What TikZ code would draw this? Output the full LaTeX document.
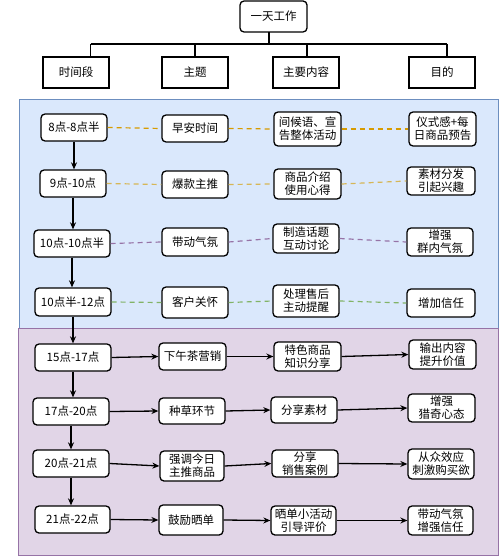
\documentclass[tikz,border=0pt]{standalone}
\usepackage{fontspec}
\setmainfont{Noto Sans CJK SC}
\usetikzlibrary{arrows.meta}
\definecolor{bluefill}{HTML}{DAE8FC}
\definecolor{blueline}{HTML}{6C8EBF}
\definecolor{purfill}{HTML}{E1D5E7}
\definecolor{purline}{HTML}{9673A6}
\definecolor{orangeline}{HTML}{D79B00}
\definecolor{yellowline}{HTML}{D6B656}
\definecolor{greenline}{HTML}{82B366}
\tikzset{
  rbox/.style={draw=black, fill=white, line width=1.3pt, rounded corners=4pt,
    align=center, inner sep=0pt, font=\fontsize{11.5}{13}\selectfont},
  hbox/.style={draw=black, fill=white, line width=1.3pt,
    align=center, inner sep=0pt, font=\fontsize{11.5}{13}\selectfont},
  tree/.style={draw=black, line width=1.2pt},
  varrow/.style={draw=black, line width=1.3pt, -{Stealth[length=7pt,width=6pt]}},
  harrow/.style={draw=black, line width=1.3pt, -{Stealth[length=7pt,width=6pt]}},
  dline/.style={line width=1.2pt, dash pattern=on 5pt off 4pt},
}
\begin{document}
\begin{tikzpicture}[x=1pt,y=-1pt]
\useasboundingbox (0,0) rectangle (500,556);
% panels
\path[fill=bluefill, draw=blueline, line width=1pt] (19,100) rectangle (498,328);
\path[fill=purfill, draw=purline, line width=1pt] (18,328) rectangle (498,555);

% tree header
\node[rbox, minimum width=67pt, minimum height=31pt] (root) at (273.5,16.5) {一天工作};
\node[hbox, minimum width=66pt, minimum height=31pt] (h1) at (76,72.5) {时间段};
\node[hbox, minimum width=66pt, minimum height=31pt] (h2) at (195,72.5) {主题};
\node[hbox, minimum width=66pt, minimum height=31pt] (h3) at (306,72.5) {主要内容};
\node[hbox, minimum width=66pt, minimum height=31pt] (h4) at (442,72.5) {目的};
\coordinate (rs) at (269,32);
\coordinate (b1) at (90.7,44);
\coordinate (b2) at (195,44);
\coordinate (b3) at (307,44);
\coordinate (b4) at (447,44);
\coordinate (bm) at (269,44);
\draw[tree] (rs) -- (bm);
\draw[tree] (b1) -- (b4);
\draw[tree] (b1) -- (b1 |- h1.north);
\draw[tree] (b2) -- (b2 |- h2.north);
\draw[tree] (b3) -- (b3 |- h3.north);
\draw[tree] (b4) -- (b4 |- h4.north);

% row 1
\node[rbox, minimum width=66pt, minimum height=27pt] (t1) at (74,127.5) {8点-8点半};
\node[rbox, minimum width=66pt, minimum height=27pt] (s1) at (195,128.5) {早安时间};
\node[rbox, minimum width=67pt, minimum height=34pt] (c1) at (307.5,129) {间候语、宣\\告整体活动};
\node[rbox, minimum width=67pt, minimum height=34pt] (p1) at (442.5,129) {仪式感+每\\日商品预告};
% row 2
\node[rbox, minimum width=66pt, minimum height=27pt] (t2) at (73,183.5) {9点-10点};
\node[rbox, minimum width=66pt, minimum height=27pt] (s2) at (195,184.5) {爆款主推};
\node[rbox, minimum width=67pt, minimum height=30pt] (c2) at (307.5,184) {商品介绍\\使用心得};
\node[rbox, minimum width=68pt, minimum height=28pt] (p2) at (441,181) {素材分发\\引起兴趣};
% row 3
\node[rbox, minimum width=76pt, minimum height=27pt] (t3) at (72,243.5) {10点-10点半};
\node[rbox, minimum width=66pt, minimum height=28pt] (s3) at (195,242) {带动气氛};
\node[rbox, minimum width=66pt, minimum height=29pt] (c3) at (306,238.5) {制造话题\\互动讨论};
\node[rbox, minimum width=66pt, minimum height=28pt] (p3) at (440,242) {增强\\群内气氛};
% row 4
\node[rbox, minimum width=76pt, minimum height=28pt] (t4) at (73,302) {10点半-12点};
\node[rbox, minimum width=66pt, minimum height=31pt] (s4) at (195,302.5) {客户关怀};
\node[rbox, minimum width=66pt, minimum height=32pt] (c4) at (306,301) {处理售后\\主动提醒};
\node[rbox, minimum width=68pt, minimum height=28pt] (p4) at (441,303) {增加信任};
% row 5
\node[rbox, minimum width=76pt, minimum height=27pt] (t5) at (73,357.5) {15点-17点};
\node[rbox, minimum width=67pt, minimum height=27pt] (s5) at (192.5,356.5) {下午茶营销};
\node[rbox, minimum width=67pt, minimum height=29pt] (c5) at (307.5,356.5) {特色商品\\知识分享};
\node[rbox, minimum width=67pt, minimum height=29pt] (p5) at (442.5,354.5) {输出内容\\提升价值};
% row 6
\node[rbox, minimum width=76pt, minimum height=27pt] (t6) at (71,411.5) {17点-20点};
\node[rbox, minimum width=66pt, minimum height=26pt] (s6) at (192,411) {种草环节};
\node[rbox, minimum width=66pt, minimum height=26pt] (c6) at (304,410) {分享素材};
\node[rbox, minimum width=67pt, minimum height=28pt] (p6) at (441.5,408) {增强\\猎奇心态};
% row 7
\node[rbox, minimum width=76pt, minimum height=27pt] (t7) at (71,463.5) {20点-21点};
\node[rbox, minimum width=64pt, minimum height=30pt] (s7) at (192,466) {强调今日\\主推商品};
\node[rbox, minimum width=66pt, minimum height=27pt] (c7) at (305,463.5) {分享\\销售案例};
\node[rbox, minimum width=66pt, minimum height=30pt] (p7) at (441,464) {从众效应\\刺激购买欲};
% row 8
\node[rbox, minimum width=75pt, minimum height=27pt] (t8) at (72.5,519.5) {21点-22点};
\node[rbox, minimum width=64pt, minimum height=30pt] (s8) at (191,520) {鼓励晒单};
\node[rbox, minimum width=65pt, minimum height=29pt] (c8) at (303.5,520.5) {晒单小活动\\引导评价};
\node[rbox, minimum width=65pt, minimum height=29pt] (p8) at (440.5,520.5) {带动气氛\\增强信任};

% vertical arrows
\draw[varrow] (t1.south) -- (t1.south |- t2.north);
\draw[varrow] (t2.south) -- (t2.south |- t3.north);
\draw[varrow] (t3.south) -- (t3.south |- t4.north);
\draw[varrow] (t4.south) -- (t4.south |- t5.north);
\draw[varrow] (t5.south) -- (t5.south |- t6.north);
\draw[varrow] (t6.south) -- (t6.south |- t7.north);
\draw[varrow] (t7.south) -- (t7.south |- t8.north);

% dashed rows
\draw[dline, draw=orangeline] (t1.east) -- (s1.west);
\draw[dline, draw=orangeline] (s1.east) -- (c1.west);
\draw[dline, draw=orangeline] (c1.east) -- (p1.west);
\draw[dline, draw=yellowline] (t2.east) -- (s2.west);
\draw[dline, draw=yellowline] (s2.east) -- (c2.west);
\draw[dline, draw=yellowline] (c2.east) -- (p2.west);
\draw[dline, draw=purline] (t3.east) -- (s3.west);
\draw[dline, draw=purline] (s3.east) -- (c3.west);
\draw[dline, draw=purline] (c3.east) -- (p3.west);
\draw[dline, draw=greenline] (t4.east) -- (s4.west);
\draw[dline, draw=greenline] (s4.east) -- (c4.west);
\draw[dline, draw=greenline] (c4.east) -- (p4.west);

% solid arrow rows
\draw[harrow] (t5.east) -- (s5.west);
\draw[harrow] (s5.east) -- (c5.west);
\draw[harrow] (c5.east) -- (p5.west);
\draw[harrow] (t6.east) -- (s6.west);
\draw[harrow] (s6.east) -- (c6.west);
\draw[harrow] (c6.east) -- (p6.west);
\draw[harrow] (t7.east) -- (s7.west);
\draw[harrow] (s7.east) -- (c7.west);
\draw[harrow] (c7.east) -- (p7.west);
\draw[harrow] (t8.east) -- (s8.west);
\draw[harrow] (s8.east) -- (c8.west);
\draw[harrow] (c8.east) -- (p8.west);
\end{tikzpicture}
\end{document}
